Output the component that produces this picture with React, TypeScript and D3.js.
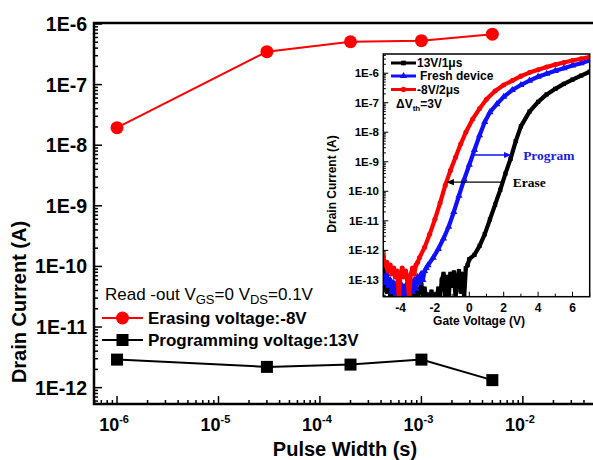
import { useEffect, useRef } from "react";
import * as d3 from "d3";

// main plot: read current vs pulse width
const pulseWidth = [1e-6, 3e-5, 2e-4, 1e-3, 5e-3];
const erasingCurrent = [1.95e-8, 3.5e-7, 5.1e-7, 5.3e-7, 6.8e-7];
const programmingCurrent = [2.9e-12, 2.2e-12, 2.4e-12, 2.9e-12, 1.33e-12];
const currentTicks = [1e-6, 1e-7, 1e-8, 1e-9, 1e-10, 1e-11, 1e-12];
const currentTickLabels = ["1E-6", "1E-7", "1E-8", "1E-9", "1E-10", "1E-11", "1E-12"];
const pulseTicks = [1e-6, 1e-5, 1e-4, 1e-3, 1e-2];
const pulseTickExps = ["-6", "-5", "-4", "-3", "-2"];

// inset: transfer curves (log10 of drain current)
const eraseVg = [
  -5.0, -4.9, -4.8, -4.7, -4.6, -4.5, -4.4, -4.3, -4.2, -4.1, -4.0, -3.9, -3.8, -3.7, -3.6, -3.5, -3.4, -3.3, -3.2, -3.1, -3.0,
  -2.9, -2.6, -2.3, -2.0, -1.7, -1.4, -1.1, -0.8, -0.5, -0.2, 0.2, 0.6, 1.0, 1.5, 2.0, 2.5, 3.0, 3.5, 4.0, 4.5, 5.0, 5.5, 6.0, 6.5, 7.0,
];
const eraseLogId = [
  -12.2, -12.5, -12.4, -12.7, -12.5, -12.8, -12.6, -12.9, -12.7, -13.6, -12.8, -12.6, -12.9, -12.7, -13.0, -13.6, -12.8, -12.6, -12.8, -12.5, -12.4,
  -12.25, -11.9, -11.45, -10.95, -10.4, -9.8, -9.3, -8.85, -8.4, -8.0, -7.55, -7.2, -6.88, -6.6, -6.4, -6.25, -6.1, -5.98, -5.88, -5.79, -5.71, -5.64, -5.57, -5.51, -5.45,
];
const freshVg = [
  -5.0, -4.9, -4.8, -4.7, -4.6, -4.5, -4.4, -4.3, -4.2, -4.1, -4.0, -3.9, -3.8, -3.7, -3.6, -3.5, -3.4, -3.3, -3.2, -3.1, -3.0, -2.9, -2.8, -2.7, -2.6, -2.5,
  -2.4, -2.1, -1.8, -1.5, -1.2, -0.9, -0.6, -0.3, 0.0, 0.3, 0.6, 0.9, 1.2, 1.6, 2.0, 2.5, 3.0, 3.5, 4.0, 4.5, 5.0, 5.5, 6.0, 6.5, 7.0,
];
const freshLogId = [
  -12.9, -13.1, -12.8, -13.2, -13.0, -13.4, -13.1, -13.6, -13.2, -13.0, -13.5, -13.2, -13.6, -13.3, -13.1, -13.6, -13.2, -13.4, -13.0, -13.3, -12.9, -13.1, -12.8, -13.0, -12.7, -12.6,
  -12.5, -12.25, -11.95, -11.6, -11.2, -10.7, -10.15, -9.6, -9.1, -8.6, -8.1, -7.65, -7.32, -7.05, -6.8, -6.57, -6.4, -6.25, -6.12, -6.02, -5.92, -5.83, -5.74, -5.66, -5.57,
];
const programVg = [
  -5.0, -4.9, -4.8, -4.7, -4.6, -4.5, -4.4, -4.3, -4.2, -4.1, -4.0, -3.9, -3.8, -3.7, -3.6, -3.5, -3.4, -3.3, -3.2, -3.1, -3.0, -2.9, -2.8, -2.7, -2.6,
  -2.5, -2.4, -2.3, -2.2, -2.1, -2.0, -1.9, -1.8, -1.7, -1.6, -1.5, -1.4, -1.3, -1.2, -1.1, -1.0, -0.9, -0.8, -0.7, -0.6, -0.5, -0.4, -0.3, -0.2, -0.1,
  0.0, 0.3, 0.6, 0.9, 1.2, 1.5, 1.8, 2.1, 2.4, 2.7, 3.0, 3.5, 4.0, 4.5, 5.0, 5.5, 6.0, 6.5, 7.0,
];
const programLogId = [
  -12.6, -13.2, -13.4, -13.0, -13.5, -13.3, -13.6, -13.4, -13.6, -13.3, -13.6, -13.5, -13.6, -13.2, -13.6, -13.4, -13.6, -13.5, -13.6, -13.3, -13.6, -13.4, -13.1, -13.5, -13.3,
  -13.6, -13.5, -13.6, -13.4, -13.6, -13.5, -13.6, -13.3, -13.6, -13.0, -12.8, -13.5, -12.9, -13.6, -12.8, -13.2, -12.75, -13.6, -12.9, -12.7, -13.4, -12.8, -13.6, -12.6, -12.5,
  -12.3, -12.15, -11.85, -11.45, -10.95, -10.45, -9.95, -9.4, -8.9, -8.3, -7.8, -7.3, -6.97, -6.72, -6.53, -6.36, -6.22, -6.08, -5.95,
];
const insetCurrentTicks = [1e-6, 1e-7, 1e-8, 1e-9, 1e-10, 1e-11, 1e-12, 1e-13];
const insetCurrentLabels = ["1E-6", "1E-7", "1E-8", "1E-9", "1E-10", "1E-11", "1E-12", "1E-13"];
const gateTicks = [-4, -2, 0, 2, 4, 6];

const SANS = "'Liberation Sans', Arial, sans-serif";
const SERIF = "'Liberation Serif', 'Times New Roman', serif";

export default function App() {
  const ref = useRef<SVGSVGElement>(null);

  useEffect(() => {
    document.body.style.margin = "0";
    const svg = d3.select(ref.current);
    svg.selectAll("*").remove();

    const x = d3.scaleLog().domain([10 ** -6.227, 10 ** -1.24]).range([94, 600]);
    const y = d3.scaleLog().domain([10 ** -12.27, 1e-6]).range([404, 24]);

    // minor + major ticks (inward)
    const minorVals = (lo: number, hi: number) => {
      const out: { v: number; major: boolean }[] = [];
      for (let e = lo; e <= hi; e++)
        for (let k = 1; k <= 9; k++) out.push({ v: k * 10 ** e, major: k === 1 });
      return out;
    };
    const yt = minorVals(-13, -6).filter((d) => d.v >= y.domain()[0] && d.v <= 1.0001e-6);
    svg.append("g")
      .selectAll("line")
      .data(yt)
      .join("line")
      .attr("x1", 94)
      .attr("x2", (d) => 94 + (d.major ? 8 : 4))
      .attr("y1", (d) => y(d.v))
      .attr("y2", (d) => y(d.v))
      .attr("stroke", "#000")
      .attr("stroke-width", 1.5);
    const xt = minorVals(-7, -2).filter((d) => d.v >= x.domain()[0] && d.v <= x.domain()[1]);
    svg.append("g")
      .selectAll("line")
      .data(xt)
      .join("line")
      .attr("x1", (d) => x(d.v))
      .attr("x2", (d) => x(d.v))
      .attr("y1", 404)
      .attr("y2", (d) => 404 - (d.major ? 8 : 4))
      .attr("stroke", "#000")
      .attr("stroke-width", 1.5);

    // frame
    svg.append("path")
      .attr("d", "M600,23 H94 V404 H600")
      .attr("fill", "none")
      .attr("stroke", "#000")
      .attr("stroke-width", 2.5);

    // tick labels
    svg.append("g")
      .selectAll("text")
      .data(currentTicks)
      .join("text")
      .attr("x", 87)
      .attr("y", (d) => y(d))
      .attr("dy", "0.36em")
      .attr("text-anchor", "end")
      .attr("font-family", SANS)
      .attr("font-weight", "bold")
      .attr("font-size", 19.5)
      .text((d, i) => currentTickLabels[i]);

    const xl = svg.append("g")
      .selectAll("text")
      .data(pulseTicks)
      .join("text")
      .attr("x", (d) => x(d) - 3)
      .attr("y", 431)
      .attr("text-anchor", "middle")
      .attr("font-family", SANS)
      .attr("font-weight", "bold")
      .attr("font-size", 18);
    xl.append("tspan").text("10");
    xl.append("tspan")
      .attr("dy", -8)
      .attr("font-size", 11)
      .text((d, i) => pulseTickExps[i]);

    svg.append("text")
      .attr("x", 345)
      .attr("y", 456)
      .attr("text-anchor", "middle")
      .attr("font-family", SANS)
      .attr("font-weight", "bold")
      .attr("font-size", 20)
      .text("Pulse Width (s)");
    svg.append("text")
      .attr("transform", "translate(26,302) rotate(-90)")
      .attr("text-anchor", "middle")
      .attr("font-family", SANS)
      .attr("font-weight", "bold")
      .attr("font-size", 20)
      .text("Drain Current (A)");

    // series
    const line = d3.line<number>().x((d, i) => x(pulseWidth[i]));
    svg.append("path")
      .attr("d", line.y((d) => y(d))(erasingCurrent))
      .attr("fill", "none")
      .attr("stroke", "#ff0000")
      .attr("stroke-width", 2);
    svg.append("path")
      .attr("d", line.y((d) => y(d))(programmingCurrent))
      .attr("fill", "none")
      .attr("stroke", "#000")
      .attr("stroke-width", 2);
    svg.append("g")
      .selectAll("circle")
      .data(erasingCurrent)
      .join("circle")
      .attr("cx", (d, i) => x(pulseWidth[i]))
      .attr("cy", (d) => y(d))
      .attr("r", 6.5)
      .attr("fill", "#ff0000");
    svg.append("g")
      .selectAll("rect")
      .data(programmingCurrent)
      .join("rect")
      .attr("x", (d, i) => x(pulseWidth[i]) - 6)
      .attr("y", (d) => y(d) - 6)
      .attr("width", 12)
      .attr("height", 12)
      .attr("fill", "#000");

    // legend
    const rd = svg.append("text")
      .attr("x", 105)
      .attr("y", 300)
      .attr("font-family", SANS)
      .attr("font-size", 17);
    rd.append("tspan").text("Read -out V");
    rd.append("tspan").attr("dy", 4).attr("font-size", 13).text("GS");
    rd.append("tspan").attr("dy", -4).text("=0 V");
    rd.append("tspan").attr("dy", 4).attr("font-size", 13).text("DS");
    rd.append("tspan").attr("dy", -4).text("=0.1V");

    svg.append("line").attr("x1", 102).attr("x2", 143).attr("y1", 318).attr("y2", 318)
      .attr("stroke", "#ff0000").attr("stroke-width", 2);
    svg.append("circle").attr("cx", 122.5).attr("cy", 318).attr("r", 6.5).attr("fill", "#ff0000");
    svg.append("text").attr("x", 148).attr("y", 324)
      .attr("font-family", SANS).attr("font-weight", "bold").attr("font-size", 17)
      .text("Erasing voltage:-8V");
    svg.append("line").attr("x1", 102).attr("x2", 143).attr("y1", 340).attr("y2", 340)
      .attr("stroke", "#000").attr("stroke-width", 2);
    svg.append("rect").attr("x", 116.5).attr("y", 334).attr("width", 12).attr("height", 12).attr("fill", "#000");
    svg.append("text").attr("x", 148).attr("y", 346)
      .attr("font-family", SANS).attr("font-weight", "bold").attr("font-size", 17)
      .text("Programming voltage:13V");

    // ---------- inset ----------
    const ix = d3.scaleLinear().domain([-5, 7]).range([383.3, 589.7]);
    const iy = d3.scaleLog().domain([10 ** -13.57, 10 ** -5.35]).range([296.7, 54]);
    const [il, ir] = ix.range();
    const [ib, itop] = iy.range();

    svg.append("rect")
      .attr("x", il).attr("y", itop).attr("width", ir - il).attr("height", ib - itop)
      .attr("fill", "#fff");
    svg.append("clipPath").attr("id", "inset-clip")
      .append("rect")
      .attr("x", il).attr("y", itop).attr("width", ir - il).attr("height", ib - itop);

    const iyt = minorVals(-14, -6).filter((d) => d.v >= iy.domain()[0] && d.v <= iy.domain()[1]);
    svg.append("g")
      .selectAll("line")
      .data(iyt)
      .join("line")
      .attr("x1", il)
      .attr("x2", (d) => il + (d.major ? 5 : 2.5))
      .attr("y1", (d) => iy(d.v))
      .attr("y2", (d) => iy(d.v))
      .attr("stroke", "#000")
      .attr("stroke-width", 1);
    svg.append("g")
      .selectAll("line")
      .data(d3.range(-5, 8))
      .join("line")
      .attr("x1", (d) => ix(d))
      .attr("x2", (d) => ix(d))
      .attr("y1", ib)
      .attr("y2", (d) => ib - (d % 2 === 0 ? 5 : 3))
      .attr("stroke", "#000")
      .attr("stroke-width", 1);

    const curves = [
      { vg: programVg, id: programLogId, color: "#000", sym: d3.symbolSquare, size: 18 },
      { vg: freshVg, id: freshLogId, color: "#1010ff", sym: d3.symbolTriangle, size: 22 },
      { vg: eraseVg, id: eraseLogId, color: "#ff0000", sym: d3.symbolCircle, size: 20 },
    ];
    const cg = svg.append("g").attr("clip-path", "url(#inset-clip)");
    curves.forEach((c) => {
      const pts = c.vg.map((v, i) => [ix(v), iy(10 ** c.id[i])] as [number, number]);
      cg.append("path")
        .attr("d", d3.line()(pts))
        .attr("fill", "none")
        .attr("stroke", c.color)
        .attr("stroke-width", 4.2)
        .attr("stroke-linejoin", "round");
      cg.append("g")
        .selectAll("path")
        .data(pts)
        .join("path")
        .attr("transform", (p) => `translate(${p[0]},${p[1]})`)
        .attr("d", d3.symbol().type(c.sym).size(c.size)())
        .attr("fill", c.color);
    });

    svg.append("rect")
      .attr("x", il).attr("y", itop).attr("width", ir - il).attr("height", ib - itop)
      .attr("fill", "none").attr("stroke", "#000").attr("stroke-width", 1.5);

    svg.append("g")
      .selectAll("text")
      .data(insetCurrentTicks)
      .join("text")
      .attr("x", 379)
      .attr("y", (d) => iy(d))
      .attr("dy", "0.36em")
      .attr("text-anchor", "end")
      .attr("font-family", SANS)
      .attr("font-weight", "bold")
      .attr("font-size", 11.5)
      .text((d, i) => insetCurrentLabels[i]);
    svg.append("g")
      .selectAll("text")
      .data(gateTicks)
      .join("text")
      .attr("x", (d) => ix(d))
      .attr("y", 312)
      .attr("text-anchor", "middle")
      .attr("font-family", SANS)
      .attr("font-weight", "bold")
      .attr("font-size", 12)
      .text((d) => (d < 0 ? "-" + Math.abs(d) : String(d)));
    svg.append("text")
      .attr("x", 479).attr("y", 325)
      .attr("text-anchor", "middle")
      .attr("font-family", SANS).attr("font-weight", "bold").attr("font-size", 12)
      .text("Gate Voltage (V)");
    svg.append("text")
      .attr("transform", "translate(336,184) rotate(-90)")
      .attr("text-anchor", "middle")
      .attr("font-family", SANS).attr("font-weight", "bold").attr("font-size", 12)
      .text("Drain Current (A)");

    // inset legend
    const legendRows = [
      { label: "13V/1\u03bcs", y: 63, c: curves[0], tx: 417 },
      { label: "Fresh device", y: 76, c: curves[1], tx: 420 },
      { label: "-8V/2\u03bcs", y: 89.5, c: curves[2], tx: 417 },
    ];
    legendRows.forEach((r) => {
      svg.append("line").attr("x1", 391).attr("x2", 416).attr("y1", r.y).attr("y2", r.y)
        .attr("stroke", r.c.color).attr("stroke-width", 3);
      svg.append("path").attr("transform", `translate(403.5,${r.y})`)
        .attr("d", d3.symbol().type(r.c.sym).size(22)()).attr("fill", r.c.color);
      svg.append("text").attr("x", r.tx).attr("y", r.y + 4.3)
        .attr("font-family", SANS).attr("font-weight", "bold").attr("font-size", 12)
        .text(r.label);
    });
    const dv = svg.append("text").attr("x", 396).attr("y", 108)
      .attr("font-family", SANS).attr("font-weight", "bold").attr("font-size", 12);
    dv.append("tspan").text("\u0394V");
    dv.append("tspan").attr("dy", 3).attr("font-size", 8).text("th");
    dv.append("tspan").attr("dy", -3).text("=3V");

    // annotation arrows
    const defs = svg.append("defs");
    [["arrB", "#1010ff"], ["arrK", "#000"]].forEach(([id, col]) => {
      defs.append("marker").attr("id", id).attr("viewBox", "0 0 10 10")
        .attr("refX", 9).attr("refY", 5).attr("markerWidth", 6).attr("markerHeight", 6)
        .attr("orient", "auto")
        .append("path").attr("d", "M0,1 L10,5 L0,9 Z").attr("fill", col);
    });
    svg.append("line")
      .attr("x1", ix(0.27)).attr("x2", ix(2.4)).attr("y1", iy(10 ** -8.77)).attr("y2", iy(10 ** -8.77))
      .attr("stroke", "#1010ff").attr("stroke-width", 1.3).attr("marker-end", "url(#arrB)");
    svg.append("line")
      .attr("x1", ix(1.94)).attr("x2", ix(-1.3)).attr("y1", iy(10 ** -9.69)).attr("y2", iy(10 ** -9.69))
      .attr("stroke", "#000").attr("stroke-width", 1.3).attr("marker-end", "url(#arrK)");
    svg.append("text").attr("x", ix(3.13)).attr("y", iy(10 ** -8.95))
      .attr("font-family", SERIF).attr("font-weight", "bold").attr("font-size", 13.5)
      .attr("fill", "#2020e0").text("Program");
    svg.append("text").attr("x", ix(2.52)).attr("y", iy(10 ** -9.84))
      .attr("font-family", SERIF).attr("font-weight", "bold").attr("font-size", 13.5)
      .attr("fill", "#000").text("Erase");
  }, []);

  return (
    <svg
      ref={ref}
      width={593}
      height={460}
      style={{ display: "block", background: "#fff" }}
    />
  );
}
